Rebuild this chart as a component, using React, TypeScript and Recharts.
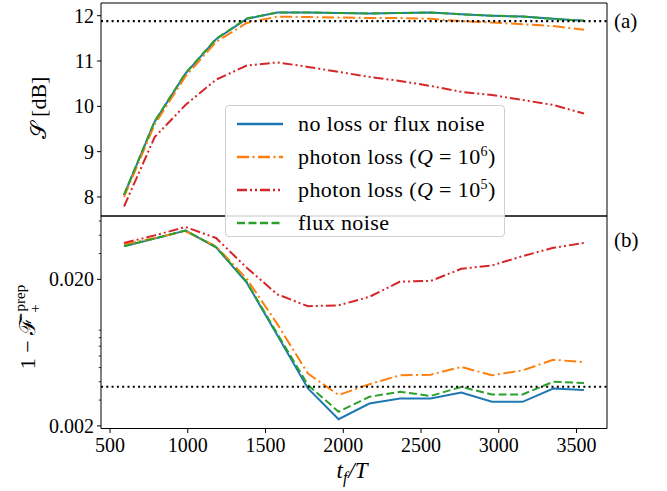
import React from 'react';
import { LineChart, Line, XAxis, YAxis, ReferenceLine } from 'recharts';

const tf = [590, 787, 985, 1182, 1379, 1576, 1773, 1970, 2168, 2365, 2562, 2759, 2956, 3153, 3350, 3548];

// (a) squeezing S [dB]
const sqNoLoss = [8.04, 9.66, 10.72, 11.48, 11.93, 12.07, 12.07, 12.06, 12.05, 12.06, 12.07, 12.03, 12.0, 11.98, 11.93, 11.89];
const sqQ6 = [8.0, 9.6, 10.66, 11.42, 11.84, 11.98, 11.97, 11.96, 11.95, 11.95, 11.93, 11.88, 11.85, 11.81, 11.77, 11.69];
const sqQ5 = [7.79, 9.32, 10.03, 10.59, 10.9, 10.97, 10.87, 10.76, 10.65, 10.56, 10.45, 10.32, 10.25, 10.14, 10.03, 9.84];
const sqFlux = [8.05, 9.67, 10.73, 11.49, 11.94, 12.07, 12.07, 12.06, 12.05, 12.06, 12.07, 12.03, 12.0, 11.98, 11.93, 11.89];
const sqTarget = 11.88;

// (b) 1 - F prep
const infNoLoss = [0.0336, 0.0379, 0.043, 0.0331, 0.019, 0.0083, 0.0036, 0.00222, 0.00284, 0.00308, 0.00308, 0.00338, 0.00292, 0.00292, 0.0036, 0.00351];
const infQ6 = [0.0345, 0.0383, 0.0426, 0.0336, 0.0202, 0.0099, 0.00455, 0.00325, 0.00385, 0.00443, 0.00447, 0.00505, 0.00443, 0.00479, 0.00565, 0.00545];
const infQ5 = [0.0354, 0.0399, 0.0455, 0.0383, 0.024, 0.0158, 0.0131, 0.0133, 0.0152, 0.0193, 0.0195, 0.0236, 0.0249, 0.0288, 0.0328, 0.0354];
const infFlux = [0.0337, 0.038, 0.0431, 0.0332, 0.0192, 0.0085, 0.0038, 0.0025, 0.00316, 0.00342, 0.0032, 0.00369, 0.00328, 0.00328, 0.004, 0.00393];
const infTarget = 0.0037;

const xTicks = [500, 1000, 1500, 2000, 2500, 3000, 3500];
const sqTicks = [8, 9, 10, 11, 12];
const infMajor = [0.002, 0.02];
const infMinor = [0.003, 0.004, 0.005, 0.006, 0.007, 0.008, 0.009, 0.03, 0.04, 0.05];

const series = [
  { key: 'noLoss', color: '#1f77b4', dash: undefined, label: 'no loss or flux noise' },
  { key: 'q6', color: '#ff7f0e', dash: '12 3.5 2 3.5', label: 'photon loss (Q = 10^6)' },
  { key: 'q5', color: '#d62728', dash: '10 3 2 3 2 3', label: 'photon loss (Q = 10^5)' },
  { key: 'flux', color: '#2ca02c', dash: '8 3.5', label: 'flux noise' },
];

const topData = tf.map((t, i) => ({ tf: t, noLoss: sqNoLoss[i], q6: sqQ6[i], q5: sqQ5[i], flux: sqFlux[i] }));
const botData = tf.map((t, i) => ({ tf: t, noLoss: infNoLoss[i], q6: infQ6[i], q5: infQ5[i], flux: infFlux[i] }));

const font = '"Liberation Serif", "DejaVu Serif", serif';
const xDomain: [number, number] = [442, 3696];
const sqDomain: [number, number] = [7.58, 12.28];
const infDomain: [number, number] = [0.00192, 0.0541];

const LogTick = (props: any) => {
  const { x, y, payload } = props;
  const major = infMajor.includes(payload.value);
  return (
    <g>
      <line x1={x} x2={x - (major ? 4 : 2.3)} y1={y} y2={y} stroke="#000" strokeWidth={major ? 1 : 0.8} />
      {major && (
        <text x={x - 7} y={y} dy="0.35em" textAnchor="end" fontSize={20} fontFamily={font} fill="#000">
          {payload.value.toFixed(3)}
        </text>
      )}
    </g>
  );
};

const legendLabel = (label: string) => {
  const m = label.match(/^(.*)\(Q = 10\^(\d)\)$/);
  if (!m) return label;
  return (
    <>
      {m[1]}(<i>Q</i> = 10<sup style={{ fontSize: 14 }}>{m[2]}</sup>)
    </>
  );
};

const frameX = { height: 1, tick: false as const, tickLine: false, axisLine: { stroke: '#000' } };

export default function App() {
  return (
    <div style={{ position: 'absolute', left: 0, top: 0, width: 667, height: 491, background: '#fff', fontFamily: font }}>
      <div style={{ position: 'absolute', left: 0, top: 0 }}>
        <LineChart width={667} height={218} data={topData} margin={{ top: 2, right: 59, bottom: 1, left: 0 }}>
          <XAxis xAxisId="b" dataKey="tf" type="number" domain={xDomain} allowDataOverflow {...frameX} />
          <XAxis xAxisId="t" orientation="top" dataKey="tf" type="number" domain={xDomain} allowDataOverflow {...frameX} />
          <YAxis
            yAxisId="l"
            width={101}
            type="number"
            domain={sqDomain}
            allowDataOverflow
            ticks={sqTicks}
            interval={0}
            tickSize={4}
            tickMargin={3}
            tickLine={{ stroke: '#000' }}
            axisLine={{ stroke: '#000' }}
            tick={{ fill: '#000', fontSize: 20, fontFamily: font }}
            label={{
              content: () => (
                <text x={46} y={108} transform="rotate(-90 46 108)" textAnchor="middle" fontSize={22} fontFamily={font} fill="#000">
                  𝒮 [dB]
                </text>
              ),
            }}
          />
          <YAxis yAxisId="r" orientation="right" width={1} domain={sqDomain} allowDataOverflow tick={false} tickLine={false} axisLine={{ stroke: '#000' }} />
          {series.map((s) => (
            <Line key={s.key} xAxisId="b" yAxisId="l" dataKey={s.key} stroke={s.color} strokeWidth={2} strokeDasharray={s.dash} dot={false} isAnimationActive={false} />
          ))}
          <ReferenceLine xAxisId="b" yAxisId="l" y={sqTarget} stroke="#000" strokeWidth={2.2} strokeDasharray="2 3.3" />
        </LineChart>
      </div>
      <div style={{ position: 'absolute', left: 0, top: 215 }}>
        <LineChart width={667} height={276} data={botData} margin={{ top: 0, right: 59, bottom: 0, left: 0 }}>
          <XAxis
            xAxisId="b"
            dataKey="tf"
            type="number"
            domain={xDomain}
            allowDataOverflow
            height={62.5}
            ticks={xTicks}
            interval={0}
            tickSize={4.5}
            tickMargin={5}
            tickLine={{ stroke: '#000' }}
            axisLine={{ stroke: '#000' }}
            tick={{ fill: '#000', fontSize: 20, fontFamily: font }}
            label={{
              content: () => (
                <text x={352} y={263} textAnchor="middle" fontSize={23} fontFamily={font} fontStyle="italic" fill="#000">
                  t<tspan fontSize={16} dy={5}>f</tspan>
                  <tspan dy={-5} dx={1}>/T</tspan>
                </text>
              ),
            }}
          />
          <XAxis xAxisId="t" orientation="top" dataKey="tf" type="number" domain={xDomain} allowDataOverflow {...frameX} />
          <YAxis
            yAxisId="l"
            width={101}
            type="number"
            scale="log"
            domain={infDomain}
            allowDataOverflow
            ticks={[...infMajor, ...infMinor]}
            interval={0}
            tickSize={0}
            tickMargin={0}
            tickLine={false}
            axisLine={{ stroke: '#000' }}
            tick={(p: any) => <LogTick {...p} />}
            label={{
              content: () => (
                <text x={35} y={112} transform="rotate(-90 35 112)" textAnchor="middle" fontSize={22} fontFamily={font} fill="#000">
                  1 − ℱ̄<tspan fontSize={15} dy={5} dx={4}>+</tspan>
                  <tspan fontSize={15} dy={-15} dx={-7}>prep</tspan>
                </text>
              ),
            }}
          />
          <YAxis yAxisId="r" orientation="right" width={1} scale="log" domain={infDomain} allowDataOverflow tick={false} tickLine={false} axisLine={{ stroke: '#000' }} />
          {series.map((s) => (
            <Line key={s.key} xAxisId="b" yAxisId="l" dataKey={s.key} stroke={s.color} strokeWidth={2} strokeDasharray={s.dash} dot={false} isAnimationActive={false} />
          ))}
          <ReferenceLine xAxisId="b" yAxisId="l" y={infTarget} stroke="#000" strokeWidth={2.2} strokeDasharray="2 3.3" />
        </LineChart>
      </div>
      <div style={{ position: 'absolute', left: 614, top: 9, fontSize: 21 }}>(a)</div>
      <div style={{ position: 'absolute', left: 614, top: 228, fontSize: 21 }}>(b)</div>
      <div
        style={{
          position: 'absolute',
          left: 225,
          top: 105,
          width: 280,
          height: 132,
          border: '1px solid #d0d0d0',
          borderRadius: 4,
          background: 'rgba(255,255,255,0.85)',
          boxSizing: 'border-box',
          fontSize: 22,
          letterSpacing: 0.4,
        }}
      >
        {series.map((s, i) => (
          <div key={s.key} style={{ position: 'absolute', left: 0, top: 3 + i * 33, height: 30, display: 'flex', alignItems: 'center', whiteSpace: 'nowrap' }}>
            <svg width={72} height={30} style={{ flex: 'none' }}>
              <line x1={11} x2={57} y1={15} y2={15} stroke={s.color} strokeWidth={2.5} strokeDasharray={s.dash} />
            </svg>
            <span>{legendLabel(s.label)}</span>
          </div>
        ))}
      </div>
    </div>
  );
}
